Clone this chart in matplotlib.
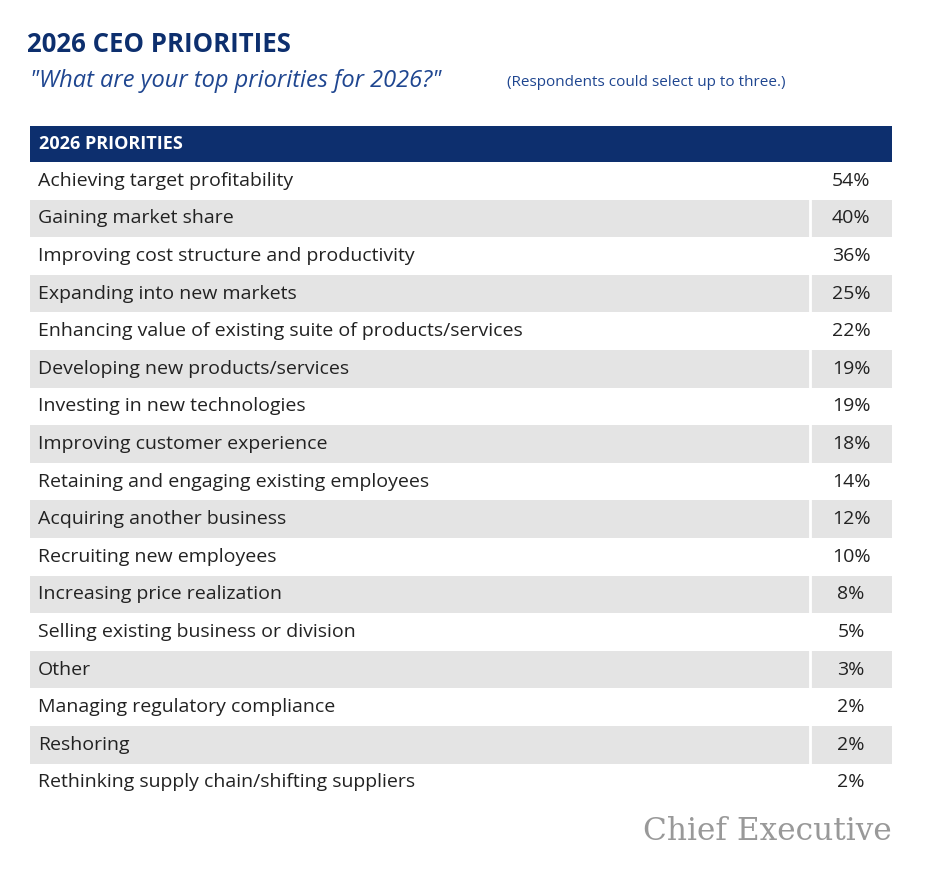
import matplotlib
matplotlib.use('Agg')
import matplotlib.pyplot as plt
from matplotlib.patches import Rectangle

priorities = [
    'Achieving target profitability', 'Gaining market share',
    'Improving cost structure and productivity', 'Expanding into new markets',
    'Enhancing value of existing suite of products/services',
    'Developing new products/services', 'Investing in new technologies',
    'Improving customer experience', 'Retaining and engaging existing employees',
    'Acquiring another business', 'Recruiting new employees',
    'Increasing price realization', 'Selling existing business or division',
    'Other', 'Managing regulatory compliance', 'Reshoring',
    'Rethinking supply chain/shifting suppliers',
]
shares = [54, 40, 36, 25, 22, 19, 19, 18, 14, 12, 10, 8, 5, 3, 2, 2, 2]

navy = '#0d2f6e'
gray = '#e4e4e4'
txt = '#222222'
plt.rcParams['font.family'] = ['Open Sans', 'DejaVu Sans']

fig = plt.figure(figsize=(9.36, 8.85), dpi=100)
ax = fig.add_axes([0, 0, 1, 1])
ax.set_xlim(0, 936)
ax.set_ylim(885, 0)
ax.axis('off')

ax.text(27, 45, '2026 CEO PRIORITIES', fontsize=18.5, fontweight='bold', color=navy, va='center')
ax.text(30, 81, '"What are your top priorities for 2026?"', fontsize=17, style='italic',
        color='#1f4690', va='center')
ax.text(507, 83, '(Respondents could select up to three.)', fontsize=11, color='#1f4690', va='center')

left, right, sep = 30, 892, 810
top, hh, rh = 126, 36, 37.6
ax.add_patch(Rectangle((left, top), right - left, hh, color=navy, lw=0))
ax.text(39, top + hh / 2, '2026 PRIORITIES', fontsize=13, fontweight='bold', color='white', va='center')

for i, (name, v) in enumerate(zip(priorities, shares)):
    y0 = top + hh + i * rh
    if i % 2 == 1:
        ax.add_patch(Rectangle((left, y0), right - left, rh, color=gray, lw=0))
        ax.plot([sep, sep], [y0, y0 + rh], color='white', lw=2)
    yc = y0 + rh / 2
    ax.text(38, yc, name, fontsize=14, color=txt, va='center')
    ax.text(851, yc, f'{v}%', fontsize=14, color=txt, va='center', ha='center')

ax.text(892, 832, 'Chief Executive', fontsize=22.5, family='DejaVu Serif', color='#999999',
        ha='right', va='center')

fig.savefig('out.png', dpi=100, facecolor='white')
